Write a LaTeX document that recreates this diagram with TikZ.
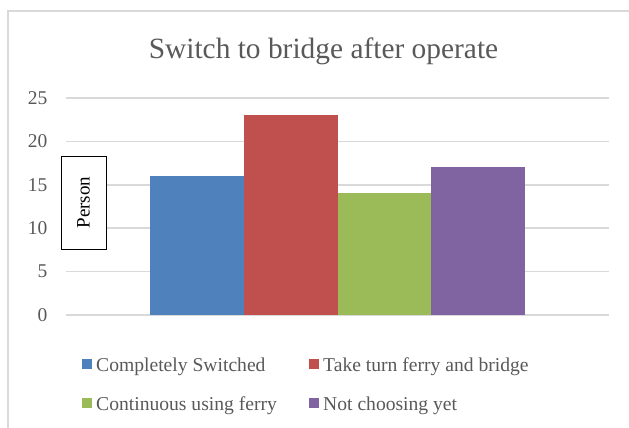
\documentclass[tikz,border=0pt]{standalone}
\usepackage{fontspec}
\setmainfont{Liberation Serif}
\definecolor{gridgray}{HTML}{D9D9D9}
\definecolor{textgray}{HTML}{595959}
\definecolor{barblue}{HTML}{4F81BD}
\definecolor{barred}{HTML}{C0504D}
\definecolor{bargreen}{HTML}{9BBB59}
\definecolor{barpurple}{HTML}{8064A2}
\tikzset{
  gridline/.style={draw=gridgray, line width=1.5pt},
  frameline/.style={draw=gridgray, line width=1.6pt},
  ticklabel/.style={anchor=east, text=textgray, font=\fontsize{19.5}{22}\selectfont, inner sep=0pt},
  legendtext/.style={anchor=base west, text=textgray, font=\fontsize{19.6}{22}\selectfont, inner sep=0pt},
  legendkey/.style={minimum size=10pt, inner sep=0pt, draw=none},
}
\begin{document}
\begin{tikzpicture}[x=1pt, y=-1pt]
  \useasboundingbox (0,0) rectangle (629,428);
  % chart frame (only top and left edges fall inside the page)
  \draw[frameline] (8,428) -- (8,11) -- (629,11);

  % title
  \node[anchor=base, text=textgray, font=\fontsize{29.4}{34}\selectfont, inner sep=0pt]
    (title) at (323.5,59) {Switch to bridge after operate};

  % horizontal grid and value labels, 8.68 units per person
  \foreach \v in {0,5,10,15,20,25} {
    \pgfmathsetmacro{\yy}{315-8.68*\v}
    \draw[gridline] (66,\yy) -- (609,\yy);
    \node[ticklabel] (tick\v) at (47.5,\yy) {\v};
  }

  % bars
  \fill[barblue]   (150,315) rectangle (244,{315-8.68*16});
  \fill[barred]    (244,315) rectangle (338,{315-8.68*23});
  \fill[bargreen]  (338,315) rectangle (431,{315-8.68*14});
  \fill[barpurple] (431,315) rectangle (525,{315-8.68*17});

  % axis title in a box
  \node[draw=black, line width=0.9pt, fill=white, minimum width=45pt, minimum height=93pt,
        inner sep=0pt] (axistitle) at (83.5,202.5) {};
  \node[rotate=90, font=\fontsize{19}{22}\selectfont, inner sep=0pt] (axistext) at (axistitle.center) {Person};

  % legend
  \node[legendkey, fill=barblue]   (k1) at (87,364) {};
  \node[legendtext] (l1) at (96,371) {Completely Switched};
  \node[legendkey, fill=barred]    (k2) at (314,364) {};
  \node[legendtext] (l2) at (323,371) {Take turn ferry and bridge};
  \node[legendkey, fill=bargreen]  (k3) at (87,403) {};
  \node[legendtext] (l3) at (96,410) {Continuous using ferry};
  \node[legendkey, fill=barpurple] (k4) at (314,403) {};
  \node[legendtext] (l4) at (323,410) {Not choosing yet};
\end{tikzpicture}
\end{document}
